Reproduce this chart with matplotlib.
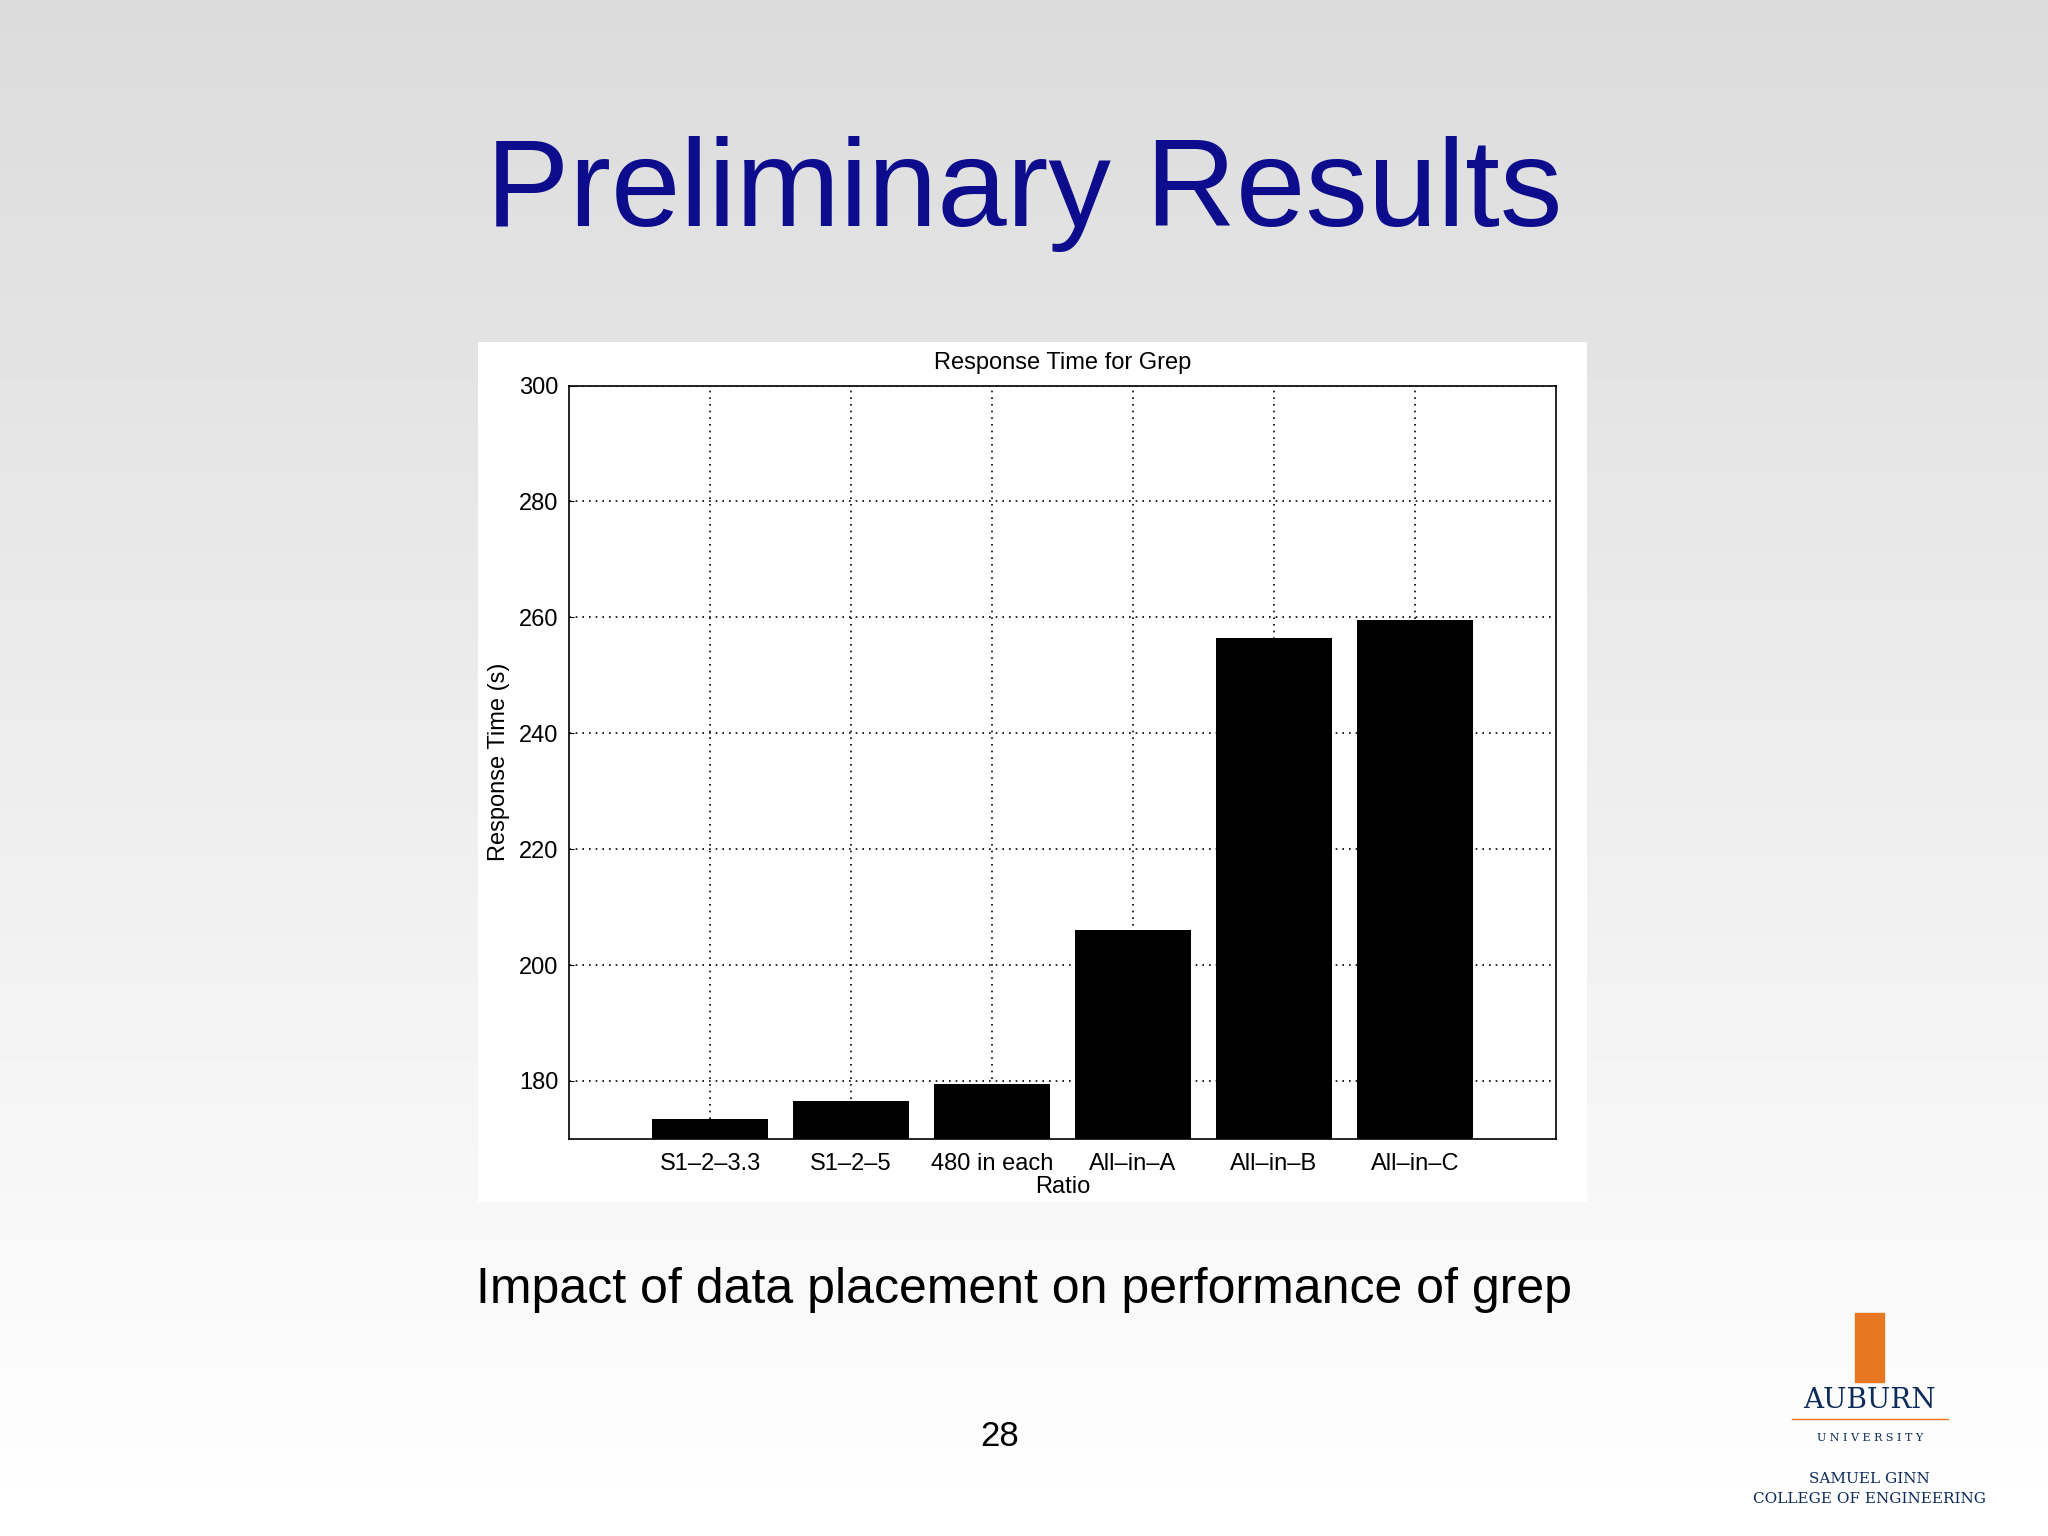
import numpy as np
import matplotlib
matplotlib.use("Agg")
import matplotlib.pyplot as plt

categories = ["S1\u20132\u20133.3", "S1\u20132\u20135", "480 in each", "All\u2013in\u2013A", "All\u2013in\u2013B", "All\u2013in\u2013C"]
response_time = [173.5, 176.5, 179.5, 206, 256.5, 259.5]
yticks = [180, 200, 220, 240, 260, 280, 300]

plt.rcParams["font.family"] = ["Liberation Sans", "DejaVu Sans"]

fig = plt.figure(figsize=(20.48, 15.36), dpi=100)

# slide background: grey top fading to white
bg = fig.add_axes([0, 0, 1, 1], zorder=-10)
grad = np.linspace(1.0, 0.86, 256)[:, None]
bg.imshow(grad, aspect="auto", cmap="gray", vmin=0, vmax=1, extent=[0, 1, 0, 1], origin="lower")
bg.set_axis_off()

# white panel behind the chart
panel = fig.add_axes([0.2334, 0.2177, 0.5415, 0.5595], zorder=-5)
panel.set_facecolor("white")
panel.set_xticks([]); panel.set_yticks([])
for s in panel.spines.values():
    s.set_visible(False)

ax = fig.add_axes([0.278, 0.2585, 0.4816, 0.4905])
x = np.arange(1, len(categories) + 1)
ax.bar(x, response_time, width=0.82, color="black", zorder=3)
ax.set_xlim(0, 7)
ax.set_ylim(170, 300)
ax.set_yticks(yticks)
ax.set_xticks(x)
ax.set_xticklabels(categories, fontsize=17)
ax.tick_params(axis="y", labelsize=17, direction="in", pad=8)
ax.tick_params(axis="x", direction="in", length=0, pad=10)
ax.grid(True, linestyle=(0, (1, 3)), color="black", linewidth=1.2, zorder=0)
ax.set_axisbelow(True)
ax.set_title("Response Time for Grep", fontsize=17, pad=12)
ax.set_xlabel("Ratio", fontsize=17, labelpad=1)
ax.set_ylabel("Response Time (s)", fontsize=17, labelpad=6)
for s in ax.spines.values():
    s.set_linewidth(1.2)

fig.text(0.5, 0.874, "Preliminary Results", ha="center", va="center",
         fontsize=90, color="#0c0c8c")
fig.text(0.5, 0.16, "Impact of data placement on performance of grep", ha="center",
         va="center", fontsize=36)
fig.text(0.488, 0.065, "28", ha="center", va="center", fontsize=25)

# logo text
fig.text(0.913, 0.088, "AUBURN", ha="center", va="center", fontsize=20,
         color="#0c2a5a", family="DejaVu Serif")
fig.text(0.913, 0.064, "U N I V E R S I T Y", ha="center", va="center", fontsize=8,
         color="#0c2a5a", family="DejaVu Serif")
fig.text(0.913, 0.037, "SAMUEL GINN", ha="center", va="center", fontsize=11,
         color="#0c2a5a", family="DejaVu Serif")
fig.text(0.913, 0.024, "COLLEGE OF ENGINEERING", ha="center", va="center", fontsize=11,
         color="#0c2a5a", family="DejaVu Serif")
fig.add_artist(plt.Line2D([0.875, 0.951], [0.076, 0.076], color="#e87722", linewidth=1))
fig.add_artist(plt.Rectangle((0.906, 0.1), 0.014, 0.045, color="#e87722"))

fig.savefig("out.png", dpi=100)
